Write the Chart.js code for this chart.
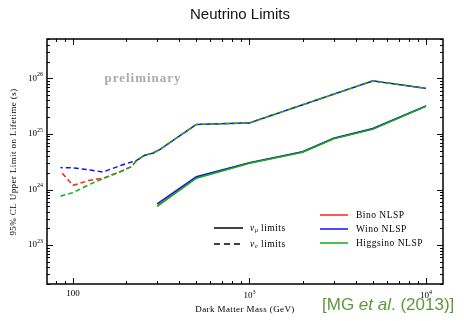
<!DOCTYPE html>
<html>
<head>
<meta charset="utf-8">
<title>Neutrino Limits</title>
<script src="https://cdn.jsdelivr.net/npm/chart.js@4/dist/chart.umd.min.js"></script>
<style>
  html, body { margin: 0; padding: 0; background: #fff; }
  canvas { display: block; }
</style>
</head>
<body>
<canvas id="chart" width="464" height="321"></canvas>
<script>
// dark matter masses (GeV)
var massE = [85, 100, 125, 148, 188, 215, 230, 255, 285, 310, 370, 500, 1000, 2000, 3000, 5000, 10000];
var massMu = [300, 500, 1000, 2000, 3000, 5000, 10000];

// nu_e limits (dashed), lifetime in s
var binoE  = [2.13e24, 1.19e24, 1.47e24, 1.6e24, 2.13e24, 2.6e24, 3.36e24, 4.13e24, 4.55e24, 5.24e24, 7.7e24, 1.48e25, 1.58e25, 3.34e25, 5.19e25, 9.0e25, 6.6e25];
var winoE  = [2.48e24, 2.45e24, 2.25e24, 2.07e24, 2.73e24, 3.13e24, 3.36e24, 4.13e24, 4.55e24, 5.24e24, 7.7e24, 1.48e25, 1.58e25, 3.34e25, 5.19e25, 9.0e25, 6.6e25];
var higgsE = [7.6e23, 8.8e23, 1.25e24, 1.57e24, 2.13e24, 2.6e24, 3.36e24, 4.13e24, 4.55e24, 5.24e24, 7.7e24, 1.48e25, 1.58e25, 3.34e25, 5.19e25, 9.0e25, 6.6e25];

// nu_mu limits (solid)
var binoMu  = [5.1e23, 1.62e24, 3.0e24, 4.74e24, 8.3e24, 1.23e25, 3.16e25];
var winoMu  = [5.5e23, 1.7e24, 3.05e24, 4.8e24, 8.4e24, 1.25e25, 3.2e25];
var higgsMu = [5.0e23, 1.6e24, 2.98e24, 4.7e24, 8.2e24, 1.22e25, 3.14e25];

var xTicks = [100, 1000, 10000];
var yTicks = [1e23, 1e24, 1e25, 1e26];

var RED = '#ff2020', BLUE = '#1010ff', GREEN = '#10b010';
var SERIF = '"Liberation Serif", "DejaVu Serif", serif';

function pts(xs, ys) {
  return xs.map(function(x, i) { return {x: x, y: ys[i]}; });
}

function line(data, color, dash, off) {
  return {
    data: data, borderColor: color, borderWidth: 1.5,
    borderDash: dash || [], borderDashOffset: off || 0,
    pointRadius: 0, fill: false, tension: 0
  };
}

// superscript power of ten
function drawPow(ctx, exp, x, y, align) {
  ctx.font = '9px ' + SERIF;
  var wb = ctx.measureText('10').width;
  ctx.font = '6px ' + SERIF;
  var we = ctx.measureText(String(exp)).width;
  var w = wb + we;
  var x0 = align === 'right' ? x - w : x - w / 2;
  ctx.textAlign = 'left';
  ctx.textBaseline = 'middle';
  ctx.font = '9px ' + SERIF;
  ctx.fillText('10', x0, y);
  ctx.font = '6px ' + SERIF;
  ctx.fillText(String(exp), x0 + wb, y - 4);
}

var decor = {
  id: 'decor',
  beforeDatasetsDraw: function(chart) {
    var ctx = chart.ctx;
    ctx.save();
    ctx.fillStyle = '#aaaaaa';
    ctx.font = 'bold 13px ' + SERIF;
    ctx.letterSpacing = '1px';
    ctx.textAlign = 'center';
    ctx.textBaseline = 'middle';
    ctx.fillText('preliminary', 143, 79);
    ctx.restore();
  },
  afterDraw: function(chart) {
    var ctx = chart.ctx, a = chart.chartArea;
    var xs = chart.scales.x, ys = chart.scales.y;
    ctx.save();
    ctx.strokeStyle = '#000';
    ctx.fillStyle = '#000';
    ctx.lineWidth = 1.5;
    ctx.strokeRect(a.left, a.top, a.right - a.left, a.bottom - a.top);

    ctx.lineWidth = 1;
    ctx.beginPath();
    for (var d = 1; d <= 4; d++) {
      for (var k = 1; k <= 9; k++) {
        var v = k * Math.pow(10, d);
        if (v < xs.min || v > xs.max) continue;
        var px = Math.round(xs.getPixelForValue(v)) + 0.5;
        var len = k === 1 ? 6 : 3;
        ctx.moveTo(px, a.bottom); ctx.lineTo(px, a.bottom - len);
        ctx.moveTo(px, a.top); ctx.lineTo(px, a.top + len);
      }
    }
    for (var e = 22; e <= 26; e++) {
      for (var k2 = 1; k2 <= 9; k2++) {
        var vy = k2 * Math.pow(10, e);
        if (vy < ys.min || vy > ys.max) continue;
        var py = Math.round(ys.getPixelForValue(vy)) + 0.5;
        var l2 = k2 === 1 ? 6 : 3;
        ctx.moveTo(a.left, py); ctx.lineTo(a.left + l2, py);
        ctx.moveTo(a.right, py); ctx.lineTo(a.right - l2, py);
      }
    }
    ctx.stroke();

    // tick labels
    xTicks.forEach(function(v) {
      var px = xs.getPixelForValue(v);
      if (v === 100) {
        ctx.font = '9px ' + SERIF;
        ctx.textAlign = 'center';
        ctx.textBaseline = 'middle';
        ctx.fillText('100', px, 294);
      } else {
        drawPow(ctx, Math.round(Math.log10(v)), px, 296, 'center');
      }
    });
    yTicks.forEach(function(v) {
      drawPow(ctx, Math.round(Math.log10(v)), 43, ys.getPixelForValue(v), 'right');
    });

    // axis titles
    ctx.font = '9px ' + SERIF;
    ctx.letterSpacing = '0.4px';
    ctx.textAlign = 'center';
    ctx.textBaseline = 'middle';
    ctx.fillText('Dark Matter Mass (GeV)', 245, 310);
    ctx.save();
    ctx.translate(14, 162);
    ctx.rotate(-Math.PI / 2);
    ctx.fillText('95% CL Upper Limit on Lifetime (s)', 0, 0);
    ctx.restore();
    ctx.letterSpacing = '0px';

    // title
    ctx.font = '15px "Liberation Sans", Arial, sans-serif';
    ctx.fillStyle = '#111';
    ctx.fillText('Neutrino Limits', 240, 15);

    // legends
    ctx.lineWidth = 1.5;
    ctx.strokeStyle = '#000';
    ctx.setLineDash([]);
    ctx.beginPath(); ctx.moveTo(214, 228); ctx.lineTo(243, 228); ctx.stroke();
    ctx.setLineDash([6, 4]);
    ctx.beginPath(); ctx.moveTo(214, 244); ctx.lineTo(243, 244); ctx.stroke();
    ctx.setLineDash([]);
    ctx.fillStyle = '#000';
    ctx.textAlign = 'left';
    ctx.letterSpacing = '0.5px';
    [['\u03bc', 228], ['e', 244]].forEach(function(r) {
      ctx.font = 'italic 9.5px ' + SERIF;
      ctx.fillText('\u03bd', 250, r[1]);
      ctx.font = 'italic 6px ' + SERIF;
      ctx.fillText(r[0], 255, r[1] + 2);
      ctx.font = '9.5px ' + SERIF;
      ctx.fillText('limits', 261, r[1]);
    });
    [[RED, 'Bino NLSP', 215], [BLUE, 'Wino NLSP', 229], [GREEN, 'Higgsino NLSP', 243]].forEach(function(r) {
      ctx.strokeStyle = r[0];
      ctx.beginPath(); ctx.moveTo(320, r[2]); ctx.lineTo(348, r[2]); ctx.stroke();
      ctx.font = '9.5px ' + SERIF;
      ctx.fillText(r[1], 356, r[2]);
    });
    ctx.letterSpacing = '0px';

    // citation
    ctx.fillStyle = '#5a9a3a';
    ctx.font = '17px "Liberation Sans", Arial, sans-serif';
    var x0 = 322, yc = 305;
    var parts = [['[MG ', ''], ['et al', 'italic '], ['. (2013)]', '']];
    parts.forEach(function(p) {
      ctx.font = p[1] + '17px "Liberation Sans", Arial, sans-serif';
      ctx.fillText(p[0], x0, yc);
      x0 += ctx.measureText(p[0]).width;
    });
    ctx.restore();
  }
};

var config = {
  type: 'line',
  data: {
    datasets: [
      line(pts(massMu, higgsMu), GREEN),
      line(pts(massMu, winoMu), BLUE),
      line(pts(massMu, binoMu), RED),
      line(pts(massE, higgsE), GREEN, [5, 3], 0),
      line(pts(massE, winoE), BLUE, [5, 3], 2.7),
      line(pts(massE, binoE), RED, [5, 3], 5.3)
    ]
  },
  options: {
    responsive: false,
    animation: false,
    devicePixelRatio: 1,
    layout: { padding: { left: 47, right: 21, top: 39, bottom: 37 } },
    plugins: { legend: { display: false }, tooltip: { enabled: false } },
    scales: {
      x: { type: 'logarithmic', min: 71.3, max: 12480, display: false },
      y: { type: 'logarithmic', min: 2.0e22, max: 5.1e26, display: false }
    }
  },
  plugins: [decor]
};

var chart = new Chart(document.getElementById('chart'), config);
</script>
</body>
</html>
